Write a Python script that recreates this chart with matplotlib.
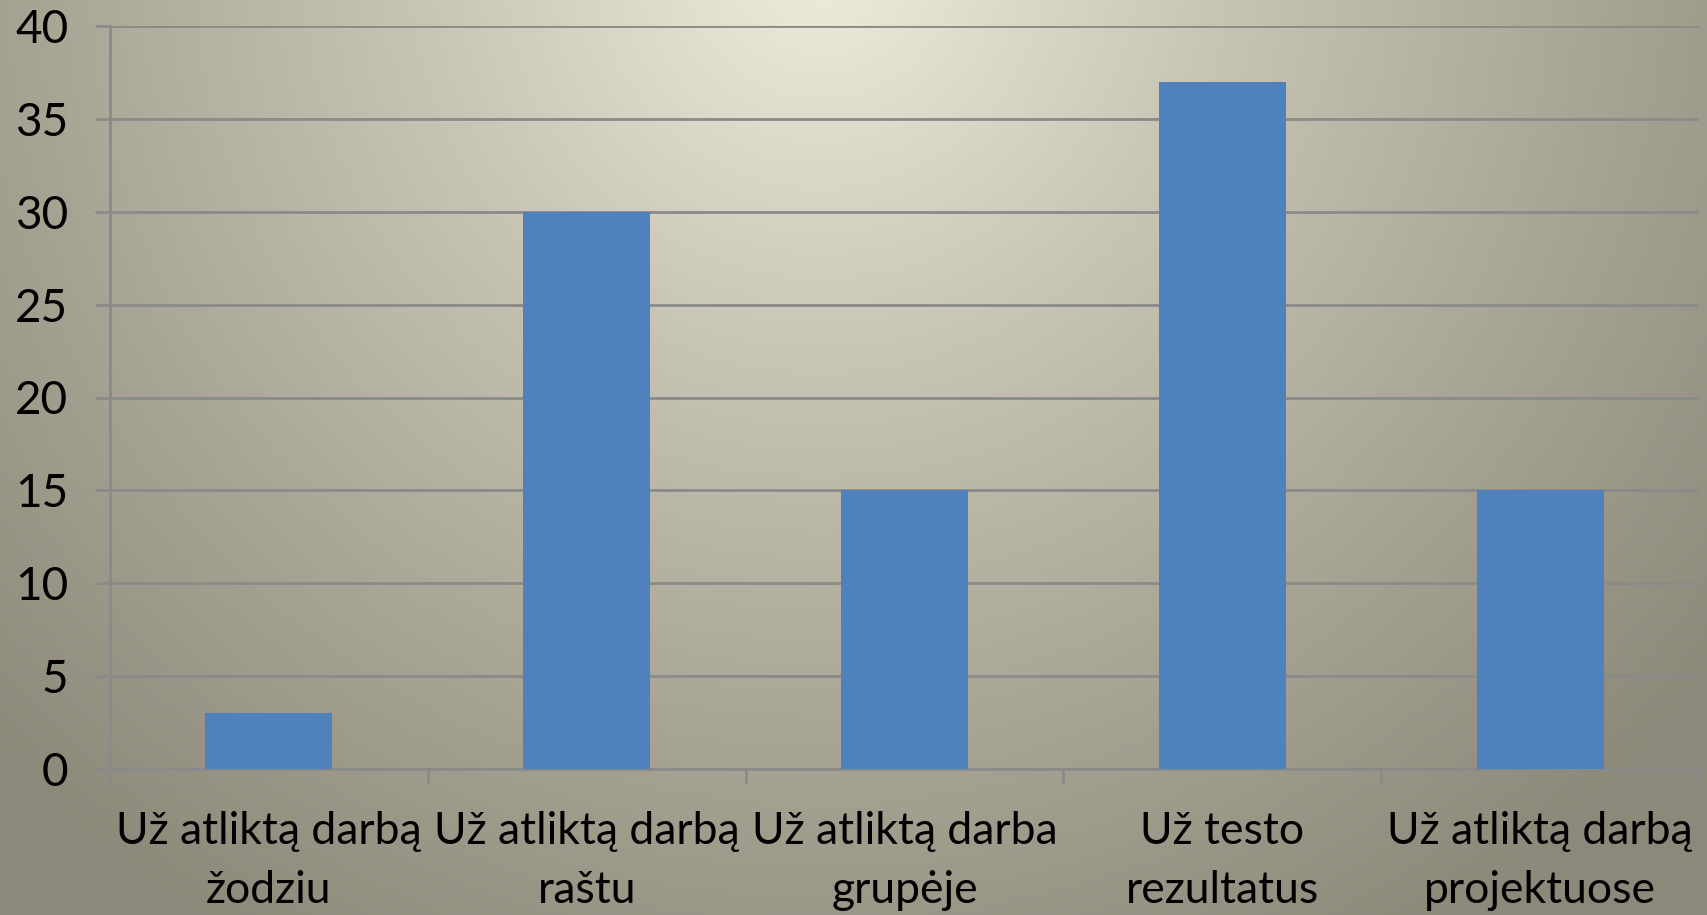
import numpy as np
import matplotlib.pyplot as plt
from matplotlib.colors import LinearSegmentedColormap

# data
categories = ['Už atliktą darbą\nžodziu', 'Už atliktą darbą\nraštu', 'Už atliktą darba\ngrupėje',
              'Už testo\nrezultatus', 'Už atliktą darbą\nprojektuose']
values = [3, 30, 15, 37, 15]
y_ticks = [0, 5, 10, 15, 20, 25, 30, 35, 40]

plt.rcParams['font.family'] = ['Lato', 'DejaVu Sans']

fig = plt.figure(figsize=(17.07, 9.15), dpi=100)

# radial background gradient, light at top centre
bg = fig.add_axes([0, 0, 1, 1], zorder=-10)
xx, yy = np.meshgrid(np.linspace(0, 1707, 400), np.linspace(0, 915, 220))
r = np.sqrt((xx - 820) ** 2 + (yy + 40) ** 2) / 1150
cmap = LinearSegmentedColormap.from_list('bg', ['#efecdc', '#c9c6b5', '#a9a696', '#8c897a'])
bg.imshow(np.clip(r, 0, 1), cmap=cmap, vmin=0, vmax=1, extent=[0, 1707, 915, 0], aspect='auto')
bg.axis('off')

ax = fig.add_axes([110 / 1707, 1 - 769 / 915, 1589 / 1707, 743 / 915])
ax.patch.set_alpha(0)
x = np.arange(len(categories))
ax.bar(x, values, width=0.4, color='#4f81bd', zorder=3)

ax.set_xlim(-0.5, len(categories) - 0.5)
ax.set_ylim(0, 40)
ax.set_yticks(y_ticks)
ax.grid(axis='y', color='#8a8a8a', linewidth=2, zorder=1)

for s in ['top', 'right']:
    ax.spines[s].set_visible(False)
for s in ['left', 'bottom']:
    ax.spines[s].set_color('#8a8a8a')
    ax.spines[s].set_linewidth(2)

ax.set_xticks(x)
ax.set_xticklabels(categories)
ax.set_xticks(np.arange(-0.5, len(categories)), minor=True)
ax.tick_params(axis='x', which='major', length=0, pad=30, labelsize=32)
ax.tick_params(axis='x', which='minor', length=11, width=2, color='#8a8a8a')
ax.tick_params(axis='y', length=11, width=2, color='#8a8a8a', labelsize=33, pad=19)
for lbl in ax.get_xticklabels():
    lbl.set_linespacing(1.55)

fig.savefig('out.png', dpi=100)
